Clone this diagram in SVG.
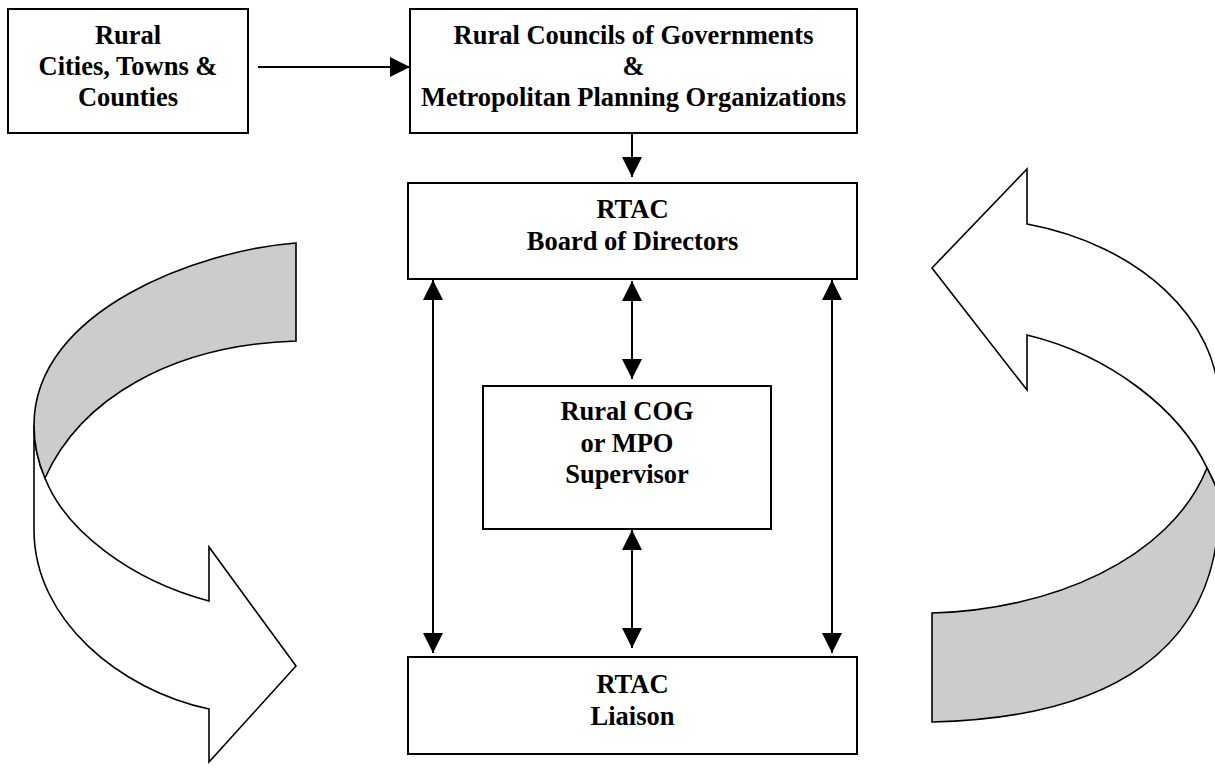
<svg xmlns="http://www.w3.org/2000/svg" width="1215" height="773" viewBox="0 0 1215 773">
<style>
.box{fill:#fff;stroke:#000;stroke-width:2}
.lbl{font-family:"Liberation Serif","Times New Roman",serif;font-weight:bold;font-size:26.5px;fill:#000;text-anchor:middle}
.con{stroke:#000;stroke-width:2;fill:none}
.ribbon{stroke:#000;stroke-width:1.6;stroke-linejoin:miter}
.front{fill:#fff}
.back{fill:#cccccc}
</style>
<defs>
<marker id="ah" markerUnits="userSpaceOnUse" markerWidth="20" markerHeight="20" viewBox="0 0 20 20" refX="20" refY="10" orient="auto-start-reverse">
<path d="M0,0 L20,10 L0,20 Z" fill="#000"/>
</marker>
</defs>
<rect width="1215" height="773" fill="#fff"/>

<g id="cycle-left">
<path class="ribbon front" d="M34,425 L34,530 C34,620 120,690 209,709 L209,762 L296,666 L209,547 L209,601 C130,580 65,530 45,478 C38,462 34,445 34,425 Z"/>
<path class="ribbon back" d="M296,243 C200,250 34,310 34,425 C34,445 38,462 45,478 C80,400 170,345 296,341 Z"/>
</g>
<g id="cycle-right">
<path class="ribbon front" d="M1027,224 C1140,245 1219,320 1219,404 L1219,505 C1219,490 1213,480 1207,468 C1180,410 1110,355 1027,335 L1027,390 L932,268 L1027,169 Z"/>
<path class="ribbon back" d="M1207,468 C1213,480 1219,490 1219,505 C1219,650 1110,718 932,722 L932,613 C1050,610 1170,560 1207,468 Z"/>
</g>

<g id="node-rural-cities">
<rect class="box" x="8" y="9" width="240" height="124"/>
<text class="lbl" x="128" y="44">Rural</text>
<text class="lbl" x="128" y="75">Cities, Towns &amp;</text>
<text class="lbl" x="128" y="106">Counties</text>
</g>
<g id="node-cog-mpo">
<rect class="box" x="410" y="9" width="447" height="124"/>
<text class="lbl" x="633.5" y="44">Rural Councils of Governments</text>
<text class="lbl" x="633.5" y="75">&amp;</text>
<text class="lbl" x="633.5" y="106">Metropolitan Planning Organizations</text>
</g>
<g id="node-board">
<rect class="box" x="408" y="183" width="449" height="96"/>
<text class="lbl" x="632.5" y="218">RTAC</text>
<text class="lbl" x="632.5" y="250">Board of Directors</text>
</g>
<g id="node-supervisor">
<rect class="box" x="483" y="386" width="288" height="143"/>
<text class="lbl" x="627" y="420">Rural COG</text>
<text class="lbl" x="627" y="452">or MPO</text>
<text class="lbl" x="627" y="483">Supervisor</text>
</g>
<g id="node-liaison">
<rect class="box" x="408" y="657" width="449" height="97"/>
<text class="lbl" x="632.5" y="693">RTAC</text>
<text class="lbl" x="632.5" y="725">Liaison</text>
</g>

<g id="connectors">
<line class="con" x1="258" y1="67" x2="410" y2="67" marker-end="url(#ah)"/>
<line class="con" x1="632" y1="133" x2="632" y2="177" marker-end="url(#ah)"/>
<line class="con" x1="433" y1="280" x2="433" y2="653" marker-start="url(#ah)" marker-end="url(#ah)"/>
<line class="con" x1="832" y1="280" x2="832" y2="653" marker-start="url(#ah)" marker-end="url(#ah)"/>
<line class="con" x1="632" y1="281" x2="632" y2="379" marker-start="url(#ah)" marker-end="url(#ah)"/>
<line class="con" x1="632" y1="530" x2="632" y2="648" marker-start="url(#ah)" marker-end="url(#ah)"/>
</g>
</svg>
